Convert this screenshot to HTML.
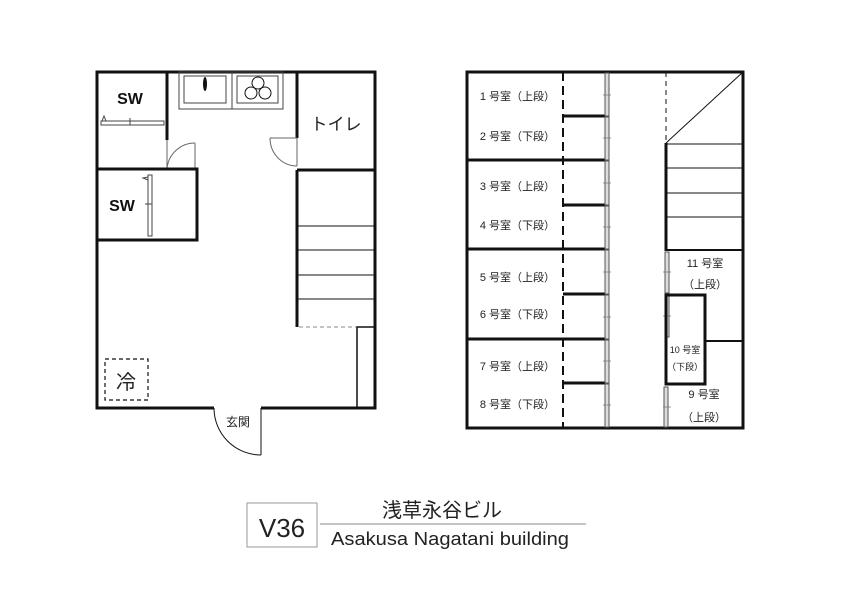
<!DOCTYPE html>
<html><head><meta charset="utf-8"><style>
html,body{margin:0;padding:0;background:#fff;width:842px;height:595px;overflow:hidden}
svg{display:block}
text{font-family:"Liberation Sans","Noto Sans CJK JP",sans-serif;fill:#222}
</style></head><body>
<svg width="842" height="595" viewBox="0 0 842 595" xmlns="http://www.w3.org/2000/svg">
<g fill="none" stroke="#111">
<path d="M214 408 H97 V72 H375 V408 H261" stroke-width="3"/>
<path d="M167 72 V140" stroke-width="3"/>
<path d="M97 169 H167" stroke-width="3"/>
<path d="M167 140 V169 H195 V143" stroke-width="1" stroke="#666"/>
<path d="M195 143 A28 28 0 0 0 167 169" stroke-width="1" stroke="#666"/>
<rect x="101" y="121" width="63" height="4" stroke-width="1" stroke="#444"/>
<path d="M130 118 V125 M102 121 L104 116 L106 121" stroke-width="1" stroke="#444"/>
<path d="M97 169 H197 V240 H97" stroke-width="3"/>
<rect x="148" y="175" width="4" height="61" stroke-width="1" stroke="#444"/>
<path d="M145 204 H152 M148 177 L143 178 L148 180" stroke-width="1" stroke="#444"/>
<rect x="179" y="72" width="53" height="37" stroke-width="1" stroke="#444"/>
<rect x="184" y="76" width="42" height="27" stroke-width="1" stroke="#444"/>
<ellipse cx="205" cy="84" rx="2" ry="7" fill="#111" stroke="none"/>
<rect x="232" y="72" width="51" height="37" stroke-width="1" stroke="#444"/>
<rect x="237" y="76" width="41" height="27" stroke-width="1" stroke="#444"/>
<circle cx="258" cy="83" r="6" stroke-width="1"/>
<circle cx="251" cy="93" r="6" stroke-width="1"/>
<circle cx="265" cy="93" r="6" stroke-width="1"/>
<path d="M297 72 V138 M297 170 H375" stroke-width="3"/>
<path d="M297 138 V166 M270 138 H297" stroke-width="1" stroke="#666"/>
<path d="M270 138 A27 28 0 0 0 297 166" stroke-width="1" stroke="#666"/>
<path d="M297 170 V327" stroke-width="3"/>
<path d="M297 226 H375 M297 250 H375 M297 275 H375 M297 299 H375" stroke-width="1"/>
<path d="M299 327 H356" stroke-width="1" stroke="#888" stroke-dasharray="4 3"/>
<rect x="357" y="327" width="18" height="81" stroke-width="1.5"/>
<rect x="105" y="359" width="43" height="41" stroke-width="1.2" stroke-dasharray="4 3"/>
<path d="M261 408 V455" stroke-width="1"/>
<path d="M214 408 A47 47 0 0 0 261 455" stroke-width="1"/>

<rect x="467" y="72" width="276" height="356" stroke-width="3"/>
<path d="M563 72 V428" stroke-width="2" stroke-dasharray="9 5"/>
<path d="M467 160 H609 M467 249 H609 M467 339 H609" stroke-width="3"/>
<path d="M563 116 H609 M563 205 H609 M563 294 H609 M563 383 H609" stroke-width="3"/>
<g stroke-width="1" stroke="#555" fill="#ddd">
<rect x="605" y="73" width="4" height="43"/><rect x="605" y="117" width="4" height="43"/>
<rect x="605" y="161" width="4" height="44"/><rect x="605" y="206" width="4" height="43"/>
<rect x="605" y="250" width="4" height="44"/><rect x="605" y="295" width="4" height="44"/>
<rect x="605" y="340" width="4" height="43"/><rect x="605" y="384" width="4" height="43"/>
<rect x="665" y="252" width="4" height="41"/><rect x="665" y="295" width="4" height="42"/>
<rect x="664" y="387" width="4" height="40"/>
</g>
<path d="M603 95 H611 M603 138 H611 M603 183 H611 M603 227 H611 M603 272 H611 M603 317 H611 M603 361 H611 M603 405 H611 M663 272 H671 M663 316 H671 M663 407 H671" stroke-width="0.8" stroke="#777"/>
<path d="M666 72 V143" stroke-width="1" stroke-dasharray="5 4"/>
<path d="M666 143 L743 72" stroke-width="1"/>
<path d="M666 143 V251" stroke-width="3"/>
<path d="M666 144 H743 M666 168 H743 M666 193 H743 M666 217 H743" stroke-width="1"/>
<path d="M666 250 H743" stroke-width="2"/>
<path d="M666 295 H705 V384 H666 Z" stroke-width="3"/>
<path d="M705 341 H743" stroke-width="2"/>

<rect x="247" y="503" width="70" height="44" stroke-width="1" stroke="#999"/>
<path d="M320 524 H586" stroke-width="1" stroke="#888"/>
</g>
<g>
<text x="130" y="104" font-size="16" font-weight="bold" text-anchor="middle" style="fill:#111">SW</text>
<text x="122" y="211" font-size="16" font-weight="bold" text-anchor="middle" style="fill:#111">SW</text>
<text x="336" y="130" font-size="17" text-anchor="middle">トイレ</text>
<text x="126" y="389" font-size="20" text-anchor="middle">冷</text>
<text x="238" y="426" font-size="12" text-anchor="middle">玄関</text>
<g font-size="11" text-anchor="end">
<text x="555" y="100">1 号室（上段）</text>
<text x="555" y="140">2 号室（下段）</text>
<text x="555" y="190">3 号室（上段）</text>
<text x="555" y="229">4 号室（下段）</text>
<text x="555" y="281">5 号室（上段）</text>
<text x="555" y="318">6 号室（下段）</text>
<text x="555" y="370">7 号室（上段）</text>
<text x="555" y="408">8 号室（下段）</text>
</g>
<g font-size="11" text-anchor="middle">
<text x="705" y="267">11 号室</text>
<text x="705" y="288">（上段）</text>
<text x="704" y="398">9 号室</text>
<text x="704" y="421">（上段）</text>
</g>
<text x="685" y="353" font-size="9" text-anchor="middle">10 号室</text>
<text x="685" y="370" font-size="9" text-anchor="middle">（下段）</text>
<text x="282" y="537" font-size="26" text-anchor="middle">V36</text>
<text x="442" y="517" font-size="20" text-anchor="middle">浅草永谷ビル</text>
<text x="450" y="545" font-size="18" text-anchor="middle" textLength="238" lengthAdjust="spacingAndGlyphs">Asakusa Nagatani building</text>
</g>
</svg>
</body></html>
